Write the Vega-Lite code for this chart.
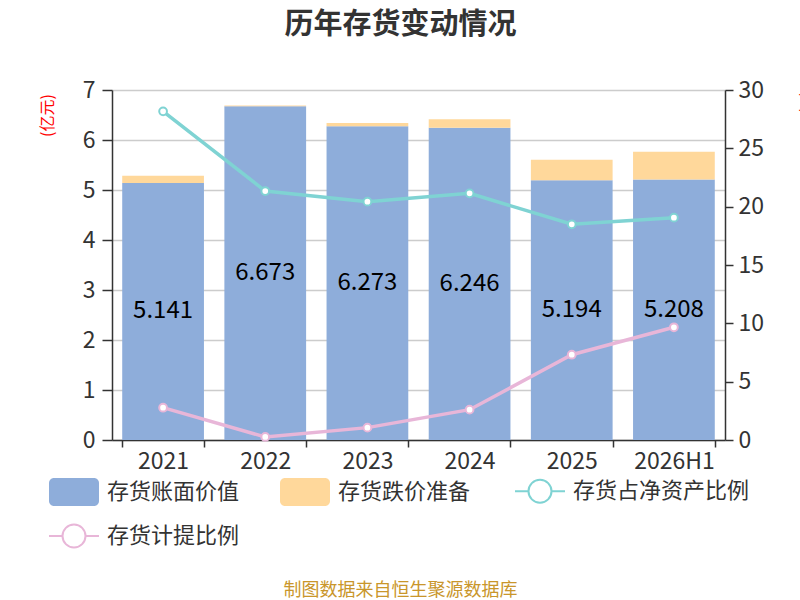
{
  "$schema": "https://vega.github.io/schema/vega-lite/v6.json",
  "width": 613,
  "height": 350,
  "autosize": {"type": "none"},
  "padding": {"left": 112, "top": 90, "right": 75, "bottom": 160},
  "background": "white",
  "title": {
    "text": "历年存货变动情况",
    "fontSize": 29,
    "fontWeight": "bold",
    "color": "#333333",
    "frame": "group",
    "anchor": "middle",
    "dx": -18,
    "offset": 39
  },
  "config": {
    "font": "Noto Sans CJK SC",
    "view": {"stroke": null},
    "axis": {
      "labelFont": "Noto Sans CJK SC",
      "labelFontSize": 23,
      "labelColor": "#333333",
      "tickColor": "#333333",
      "domainColor": "#333333",
      "domainWidth": 1.5,
      "tickWidth": 1.5
    }
  },
  "datasets": {
    "bars": [
      {"year": "2021", "type": "存货账面价值", "value": 5.141},
      {"year": "2021", "type": "存货跌价准备", "value": 0.146},
      {"year": "2022", "type": "存货账面价值", "value": 6.673},
      {"year": "2022", "type": "存货跌价准备", "value": 0.017},
      {"year": "2023", "type": "存货账面价值", "value": 6.273},
      {"year": "2023", "type": "存货跌价准备", "value": 0.067},
      {"year": "2024", "type": "存货账面价值", "value": 6.246},
      {"year": "2024", "type": "存货跌价准备", "value": 0.167},
      {"year": "2025", "type": "存货账面价值", "value": 5.194},
      {"year": "2025", "type": "存货跌价准备", "value": 0.41},
      {"year": "2026H1", "type": "存货账面价值", "value": 5.208},
      {"year": "2026H1", "type": "存货跌价准备", "value": 0.557}
    ],
    "lines": [
      {"year": "2021", "type": "存货占净资产比例", "value": 28.17},
      {"year": "2022", "type": "存货占净资产比例", "value": 21.34},
      {"year": "2023", "type": "存货占净资产比例", "value": 20.43},
      {"year": "2024", "type": "存货占净资产比例", "value": 21.14},
      {"year": "2025", "type": "存货占净资产比例", "value": 18.49},
      {"year": "2026H1", "type": "存货占净资产比例", "value": 19.06},
      {"year": "2021", "type": "存货计提比例", "value": 2.77},
      {"year": "2022", "type": "存货计提比例", "value": 0.26},
      {"year": "2023", "type": "存货计提比例", "value": 1.06},
      {"year": "2024", "type": "存货计提比例", "value": 2.6},
      {"year": "2025", "type": "存货计提比例", "value": 7.31},
      {"year": "2026H1", "type": "存货计提比例", "value": 9.66}
    ]
  },
  "encoding": {
    "x": {
      "field": "year",
      "type": "nominal",
      "sort": null,
      "scale": {"paddingInner": 0.2, "paddingOuter": 0.1},
      "axis": {
        "title": "制图数据来自恒生聚源数据库",
        "titleColor": "#C9962B",
        "titleFontSize": 18,
        "titleFontWeight": "normal",
        "titleX": 288,
        "titleY": 150,
        "titleBaseline": "middle",
        "titleAlign": "center",
        "labelAngle": 0,
        "tickBand": "extent",
        "tickSize": 7,
        "labelPadding": 3,
        "grid": false
      }
    }
  },
  "layer": [
    {
      "data": {"name": "bars"},
      "mark": {"type": "bar"},
      "encoding": {
        "y": {
          "field": "value",
          "type": "quantitative",
          "stack": "zero",
          "scale": {"domain": [0, 7]},
          "axis": {
            "orient": "left",
            "values": [0, 1, 2, 3, 4, 5, 6, 7],
            "title": "(亿元)",
            "titleColor": "red",
            "titleFontSize": 16,
            "titleFontWeight": "normal",
            "titleX": -65,
            "titleY": 25,
            "titleAngle": -90,
            "titleAlign": "center",
            "titleBaseline": "middle",
            "tickSize": 10,
            "labelPadding": 7,
            "grid": true,
            "gridColor": "#cccccc",
            "gridWidth": 1.5
          }
        },
        "order": {"field": "type", "sort": "ascending"},
        "color": {
          "field": "type",
          "type": "nominal",
          "scale": {
            "domain": ["存货账面价值", "存货跌价准备", "存货占净资产比例", "存货计提比例"],
            "range": ["#8EADDA", "#FFD89B", "#7FD3D3", "#E8B6D8"]
          },
          "legend": {
            "title": null,
            "orient": "none",
            "legendX": -49,
            "legendY": 390,
            "direction": "horizontal",
            "columns": 3,
            "columnPadding": 40,
            "rowPadding": 13,
            "symbolSize": 2500,
            "symbolStrokeWidth": 2,
            "labelFontSize": 22,
            "labelColor": "#333333",
            "labelOffset": 22,
            "labelLimit": 400,
            "encode": {
              "symbols": {
                "update": {
                  "shape": {"signal": "indexof(['存货账面价值','存货跌价准备'], datum.value) >= 0 ? 'M-0.8,-0.56H0.8A0.2,0.2 0 0 1 1,-0.36V0.36A0.2,0.2 0 0 1 0.8,0.56H-0.8A0.2,0.2 0 0 1 -1,0.36V-0.36A0.2,0.2 0 0 1 -0.8,-0.56Z' : 'M-1,0H-0.46M0.46,0H1M-0.46,0A0.46,0.46 0 1 1 0.46,0A0.46,0.46 0 1 1 -0.46,0Z'"},
                  "fill": {"signal": "indexof(['存货账面价值','存货跌价准备'], datum.value) >= 0 ? scale('color', datum.value) : 'white'"},
                  "fillOpacity": {"signal": "indexof(['存货账面价值','存货跌价准备'], datum.value) >= 0 ? 1 : 0"},
                  "stroke": {"signal": "scale('color', datum.value)"},
                  "strokeWidth": {"signal": "indexof(['存货账面价值','存货跌价准备'], datum.value) >= 0 ? 0 : 2"},
                  "opacity": {"value": 1}
                }
              }
            }
          }
        }
      }
    },
    {
      "data": {"name": "bars"},
      "transform": [{"filter": "datum.type === '存货账面价值'"}],
      "mark": {"type": "text", "fontSize": 24, "color": "black", "baseline": "middle", "align": "center"},
      "encoding": {
        "y": {
          "field": "value",
          "type": "quantitative",
          "scale": {"domain": [0, 14]},
          "axis": null
        },
        "text": {"field": "value", "type": "nominal"}
      }
    },
    {
      "data": {"name": "lines"},
      "mark": {
        "type": "line",
        "strokeWidth": 3.5,
        "point": {"filled": false, "fill": "white", "size": 60, "strokeWidth": 2}
      },
      "encoding": {
        "y": {
          "field": "value",
          "type": "quantitative",
          "scale": {"domain": [0, 30]},
          "axis": {
            "orient": "right",
            "values": [0, 5, 10, 15, 20, 25, 30],
            "title": "(%)",
            "titleColor": "red",
            "titleFontSize": 14,
            "titleFontWeight": "normal",
            "titleX": 80,
            "titleY": 12,
            "titleAngle": 90,
            "titleAlign": "center",
            "titleBaseline": "middle",
            "tickSize": 8,
            "labelPadding": 5,
            "grid": false
          }
        },
        "color": {"field": "type", "type": "nominal"}
      }
    }
  ],
  "resolve": {"scale": {"y": "independent"}}
}
